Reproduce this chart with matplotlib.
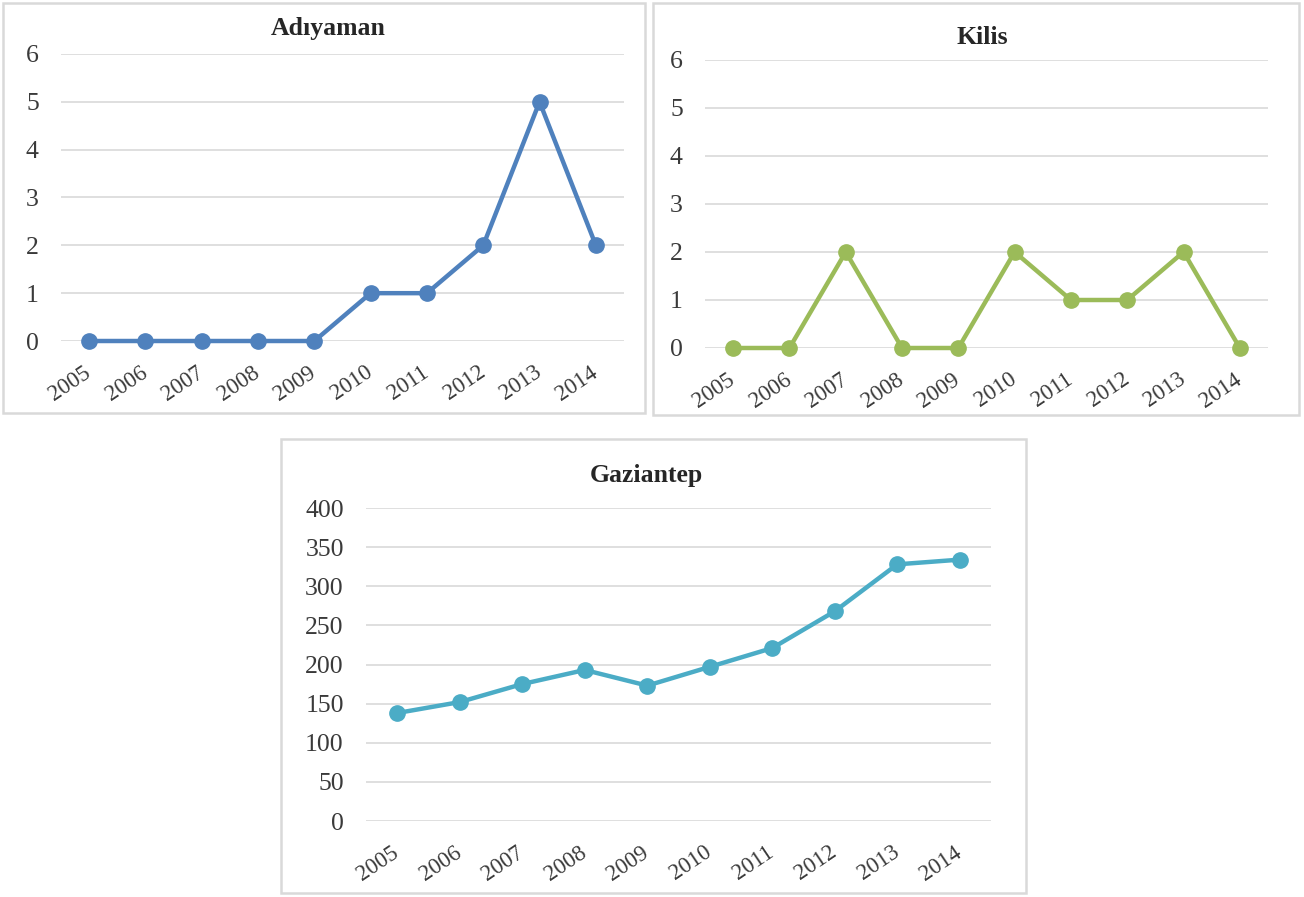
import matplotlib
matplotlib.use("Agg")
import matplotlib.pyplot as plt
import matplotlib.transforms as mtransforms
from matplotlib.patches import Rectangle

years = ["2005", "2006", "2007", "2008", "2009", "2010", "2011", "2012", "2013", "2014"]
adiyaman = [0, 0, 0, 0, 0, 1, 1, 2, 5, 2]
kilis = [0, 0, 2, 0, 0, 2, 1, 1, 2, 0]
gaziantep = [138, 152, 175, 193, 173, 197, 221, 268, 328, 334]

W, H = 1304, 897
plt.rcParams["font.family"] = ["Liberation Serif", "DejaVu Serif"]

fig = plt.figure(figsize=(W / 100, H / 100), dpi=100)
fig.patch.set_facecolor("white")


def px_rect(x0, y0, x1, y1):
    """Convert a pixel box (top-left origin) to figure fractions."""
    return [x0 / W, 1 - y1 / H, (x1 - x0) / W, (y1 - y0) / H]


def frame(x0, y0, x1, y1):
    l, b, w, h = px_rect(x0, y0, x1, y1)
    fig.patches.append(Rectangle((l, b), w, h, transform=fig.transFigure,
                                 fill=False, edgecolor="#d9d9d9", linewidth=1.8))


def panel(box, axbox, values, color, ymax, ystep, title, title_xy):
    frame(*box)
    ax = fig.add_axes(px_rect(*axbox))
    x = list(range(len(years)))
    ax.plot(x, values, color=color, linewidth=3.2, marker="o",
            markersize=11, solid_capstyle="round", zorder=3, clip_on=False)
    ax.set_xlim(-0.5, len(years) - 0.5)
    ax.set_ylim(0, ymax)
    ax.set_yticks(range(0, ymax + 1, ystep))
    ax.set_xticks(x, years)
    ax.grid(axis="y", color="#d9d9d9", linewidth=1.2)
    ax.set_axisbelow(True)
    for s in ax.spines.values():
        s.set_visible(False)
    ax.tick_params(axis="y", length=0, pad=16, labelsize=18.5, labelcolor="#3a3a3a")
    ax.tick_params(axis="x", length=0, pad=15, labelsize=16.5, labelcolor="#3a3a3a")
    shift = mtransforms.ScaledTranslation(-6 / 100, 0, fig.dpi_scale_trans)
    for lab in ax.get_xticklabels():
        lab.set_rotation(34)
        lab.set_ha("right")
        lab.set_va("top")
        lab.set_rotation_mode("anchor")
        lab.set_transform(lab.get_transform() + shift)
    fig.text(title_xy[0] / W, 1 - title_xy[1] / H, title, ha="center", va="center",
             fontsize=18.5, fontweight="bold", color="#262626")
    return ax


panel((3, 3, 645, 413), (61, 54, 624, 341), adiyaman, "#4f81bd", 6, 1,
      "Adıyaman", (328, 29))
panel((653, 3, 1299, 415), (705, 60, 1268, 348), kilis, "#9bbb59", 6, 1,
      "Kilis", (982, 38))
panel((281, 439, 1026, 893), (366, 508, 991, 821), gaziantep, "#4bacc6", 400, 50,
      "Gaziantep", (646, 475))

fig.savefig("out.png", dpi=100, facecolor="white")
